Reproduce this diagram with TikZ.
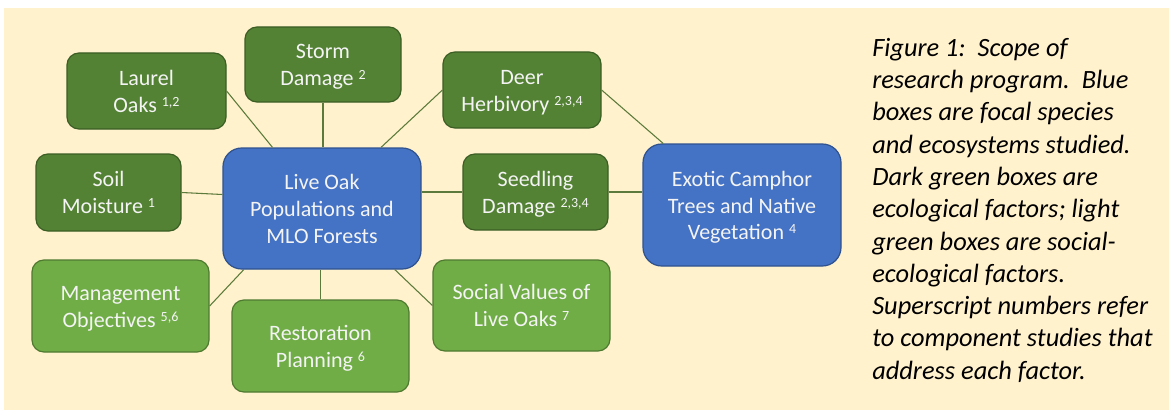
\documentclass[tikz,border=0pt]{standalone}
\usepackage{fontspec}
\setmainfont{Carlito}
\definecolor{bg}{HTML}{FFF2CC}
\definecolor{dkg}{HTML}{548235}
\definecolor{dkgb}{HTML}{3B5E24}
\definecolor{ltg}{HTML}{70AD47}
\definecolor{ltgb}{HTML}{4E7A30}
\definecolor{blu}{HTML}{4472C4}
\definecolor{blub}{HTML}{2F528F}
\definecolor{lnc}{HTML}{5B7A3C}
\definecolor{txt}{HTML}{F4F4F4}
\newcommand\sups[1]{\raisebox{4.5pt}{\fontsize{10.5}{10.5}\selectfont #1}}
\tikzset{
  boxsz/.style n args={2}{minimum width=#1*0.75pt, minimum height=#2*0.75pt},
  basebox/.style={draw, line width=0.9pt, inner sep=0pt, align=center, text=txt,
    font=\fontsize{16.5}{20}\selectfont, text height=31.5pt, text depth=0pt},
  threeline/.style={text height=52pt, text depth=0pt},
  darkbox/.style={basebox, fill=dkg, draw=dkgb, rounded corners=9pt},
  lightbox/.style={basebox, fill=ltg, draw=ltgb, rounded corners=9pt},
  bluebox/.style={basebox, threeline, fill=blu, draw=blub, rounded corners=14pt},
  conn/.style={draw=lnc, line width=0.8pt},
}
\begin{document}
\begin{tikzpicture}[x=0.75pt,y=-0.75pt]
\useasboundingbox (0,0) rectangle (1169,410);
\fill[bg] (4,8) rectangle (1169,410);

\node[darkbox, boxsz={159}{76}] (laurel) at (146.5,91) {Laurel\\Oaks \sups{1,2}};
\node[darkbox, boxsz={156}{75}] (storm) at (323,64.5) {Storm\\Damage \sups{2}};
\node[darkbox, boxsz={158}{76}] (deer) at (522,90) {Deer\\Herbivory \sups{2,3,4}};
\node[darkbox, boxsz={145}{77}] (soil) at (108.5,192.5) {Soil\\Moisture \sups{1}};
\node[bluebox, boxsz={198}{121}] (liveoak) at (322,208.5) {Live Oak\\Populations and\\MLO Forests};
\node[darkbox, boxsz={145}{76}] (seedling) at (535.5,192) {Seedling\\Damage \sups{2,3,4}};
\node[bluebox, boxsz={198}{122}] (exotic) at (742,205) {Exotic Camphor\\Trees and Native\\Vegetation \sups{4}};
\node[lightbox, boxsz={177}{92}] (mgmt) at (120.5,306) {Management\\Objectives \sups{5,6}};
\node[lightbox, boxsz={177}{92}] (restor) at (320.5,346) {Restoration\\Planning \sups{6}};
\node[lightbox, boxsz={177}{91}] (social) at (521.5,305.5) {Social Values of\\Live Oaks \sups{7}};

\draw[conn] (laurel.east) -- (liveoak.129);
\draw[conn] (storm.south) -- (storm.south |- liveoak.north);
\draw[conn] (deer.west) -- (liveoak.46);
\draw[conn] (soil.east) -- (liveoak.172);
\draw[conn] (seedling.west) -- (liveoak.east |- seedling.west);
\draw[conn] (seedling.east) -- (exotic.west |- seedling.east);
\draw[conn] (deer.east) -- (exotic.142);
\draw[conn] (mgmt.east) -- (liveoak.218);
\draw[conn] (restor.north) -- (restor.north |- liveoak.south);
\draw[conn] (social.west) -- (liveoak.320);

\node[anchor=north west, inner sep=0pt, align=left,
  font=\fontsize{19.8}{24.2}\selectfont\itshape, text=black] (caption) at (872,38)
  {Figure 1:\ \ Scope of\\research program.\ \ Blue\\boxes are focal species\\and ecosystems studied.\\Dark green boxes are\\ecological factors; light\\green boxes are social-\\ecological factors.\\Superscript numbers refer\\to component studies that\\address each factor.};
\end{tikzpicture}
\end{document}
